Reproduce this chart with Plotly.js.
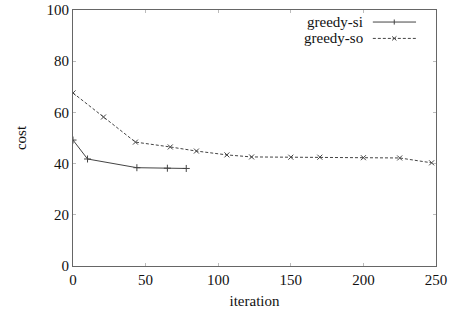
<!DOCTYPE html>
<html><head><meta charset="utf-8">
<script src="https://cdn.plot.ly/plotly-3.0.1.min.js"></script>
<style>html,body{margin:0;padding:0;background:#fff}#chart{width:449px;height:323px}</style>
</head><body><div id="chart"></div>
<script>
const siIter = [0, 10, 44, 65, 78];
const siCost = [49.2, 41.8, 38.4, 38.2, 38.1];
const soIter = [0, 21, 43, 67, 85, 106, 123, 150, 170, 200, 225, 247];
const soCost = [67.6, 58.2, 48.4, 46.5, 44.9, 43.4, 42.6, 42.5, 42.5, 42.3, 42.2, 40.3];
const seriesNames = ['greedy-si', 'greedy-so'];
const xTicks = [0, 50, 100, 150, 200, 250];
const yTicks = [0, 20, 40, 60, 80, 100];

const font = {family: '"Times New Roman", "Liberation Serif", serif', size: 15, color: '#111'};
const traces = [
  {x: siIter, y: siCost, name: seriesNames[0], mode: 'lines+markers',
   line: {color: '#444', width: 1},
   marker: {symbol: 'cross-thin-open', size: 5, line: {color: '#444', width: 1}}},
  {x: soIter, y: soCost, name: seriesNames[1], mode: 'lines+markers',
   line: {color: '#444', width: 1, dash: '3px,2px'},
   marker: {symbol: 'x-thin-open', size: 5, line: {color: '#444', width: 1}}}
];
const axisCommon = {showgrid: false, zeroline: false, showline: true, mirror: 'allticks',
  linecolor: '#666', linewidth: 1, ticks: 'inside', ticklen: 3, tickcolor: '#bbb', tickfont: font};
const layout = {
  width: 449, height: 323, margin: {l: 73, r: 13, t: 10, b: 57},
  paper_bgcolor: '#fff', plot_bgcolor: '#fff', showlegend: false, font: font,
  xaxis: Object.assign({}, axisCommon, {range: [0, 250], tickvals: xTicks,
    title: {text: 'iteration', font: font, standoff: 8}}),
  yaxis: Object.assign({}, axisCommon, {range: [0, 100], tickvals: yTicks,
    title: {text: 'cost', font: font, standoff: 16}}),
  annotations: seriesNames.map((n, i) => ({xref: 'paper', yref: 'paper', x: 0.805, y: 0.953 - i*0.064,
    xanchor: 'right', yanchor: 'middle', text: n, showarrow: false, font: font})),
  shapes: [
    {type: 'line', xref: 'paper', yref: 'paper', x0: 0.826, x1: 0.945, y0: 0.953, y1: 0.953, line: {color: '#444', width: 1}},
    {type: 'line', xref: 'paper', yref: 'paper', x0: 0.885, x1: 0.885, y0: 0.943, y1: 0.963, line: {color: '#444', width: 1}},
    {type: 'line', xref: 'paper', yref: 'paper', x0: 0.826, x1: 0.945, y0: 0.889, y1: 0.889, line: {color: '#444', width: 1, dash: '3px,2px'}},
    {type: 'line', xref: 'paper', yref: 'paper', x0: 0.879, x1: 0.891, y0: 0.881, y1: 0.897, line: {color: '#444', width: 1}},
    {type: 'line', xref: 'paper', yref: 'paper', x0: 0.879, x1: 0.891, y0: 0.897, y1: 0.881, line: {color: '#444', width: 1}}
  ]
};
Plotly.newPlot('chart', traces, layout, {staticPlot: true, displayModeBar: false});
</script></body></html>
